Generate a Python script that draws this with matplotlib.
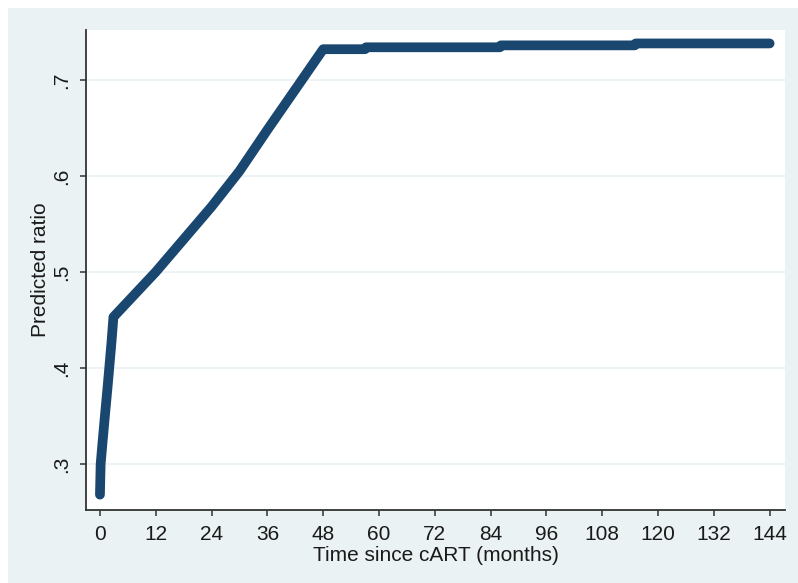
import matplotlib
matplotlib.use("Agg")
import matplotlib.pyplot as plt
from matplotlib.patches import Rectangle

plt.rcParams['font.family'] = ['Liberation Sans', 'DejaVu Sans']

# predicted ratio by months since cART start
months = [0, 0.15, 0.6, 1.1, 1.6, 2.0, 2.5, 2.9,
          12, 18, 24, 30, 36, 42, 48,
          57, 57.2, 86, 86.2, 115, 115.2, 144]
ratio = [0.268, 0.300, 0.325, 0.352, 0.378, 0.400, 0.428, 0.453,
         0.500, 0.534, 0.568, 0.605, 0.648, 0.690, 0.732,
         0.732, 0.734, 0.734, 0.736, 0.736, 0.738, 0.738]

xticks = list(range(0, 145, 12))
yticks = [0.3, 0.4, 0.5, 0.6, 0.7]
ytick_labels = ['.3', '.4', '.5', '.6', '.7']

navy = '#1A476F'
region = '#EAF2F3'

fig = plt.figure(figsize=(7.98, 5.83), dpi=100)
fig.patch.set_facecolor('white')
# graph region backdrop, kept underneath the axes
fig.patches.append(Rectangle((8 / 798, 0), 1 - 8 / 798, 1 - 8 / 583,
                             transform=fig.transFigure, facecolor=region,
                             edgecolor='none', zorder=-10))

ax = fig.add_axes([86 / 798, 1 - 510 / 583, (785 - 86) / 798, (510 - 30) / 583])
ax.set_facecolor('white')

ax.plot(months, ratio, color=navy, linewidth=7,
        solid_capstyle='round', solid_joinstyle='round', zorder=3)

ax.set_xlim(-3.0, 147.3)
ax.set_ylim(0.252, 0.752)

ax.set_xticks(xticks)
ax.set_yticks(yticks)
ax.set_yticklabels(ytick_labels, rotation=90, va='center')
ax.tick_params(axis='both', direction='out', length=4.5, width=1.1,
               color='#333333', labelsize=15, labelcolor='#1a1a1a')
ax.tick_params(axis='y', pad=6)
ax.tick_params(axis='x', pad=6)

ax.grid(axis='y', color=region, linewidth=1.2, zorder=1)
ax.set_axisbelow(True)

for side in ('top', 'right'):
    ax.spines[side].set_visible(False)
for side in ('left', 'bottom'):
    ax.spines[side].set_color('#333333')
    ax.spines[side].set_linewidth(1.3)

ax.set_xlabel('Time since cART (months)', fontsize=15, color='#1a1a1a')
ax.xaxis.set_label_coords(0.5, -0.094)
ax.xaxis.label.set_va('center')

ax.set_ylabel('Predicted ratio', fontsize=15, color='#1a1a1a')
ax.yaxis.set_label_coords(-0.0658, 0.5)
ax.yaxis.label.set_va('center')

fig.savefig('out.png', dpi=100, facecolor=fig.get_facecolor())
